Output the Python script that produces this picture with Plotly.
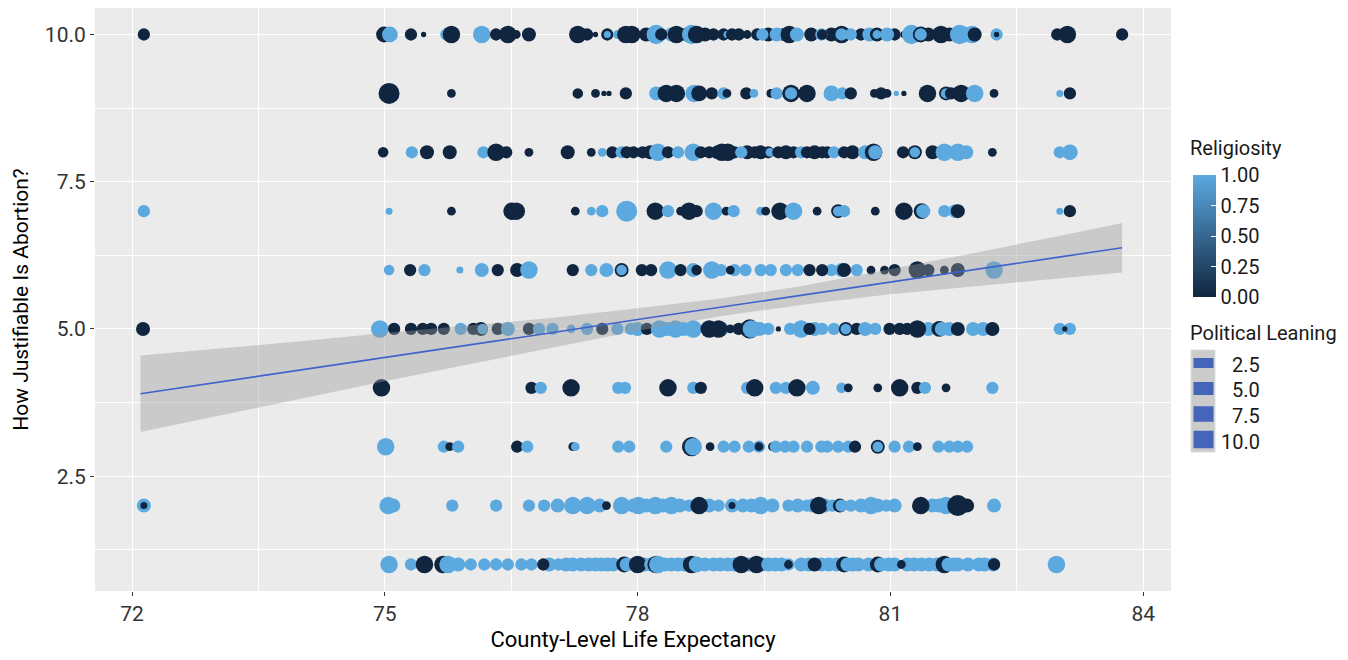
import plotly.graph_objects as go

# ---------------- data ----------------
# each row: (county-level life expectancy, religiosity, political leaning)
row_10 = [(77.40,0,5),(78.10,0,6),(78.40,1,6),(78.55,0,5),(78.80,0,6),(79.20,0,5),(79.55,0,6),(79.72,0,5),(80.30,0,6),(80.65,0,5),(80.75,1,6),(81.05,0,5),(81.45,0,6),
          (72.14,0,5),(74.99,0,7),(75.06,1,7),(75.31,0,5),(75.46,0,1),(75.73,1,5),(75.79,0,8),(76.15,1,8),(76.32,0,5),(76.46,0,8),(76.56,0,3),(76.71,0,6),
          (77.29,0,8),(77.50,0,1),(77.64,0,5),(77.64,1,2),(77.76,1,3),(77.86,0,8),(77.93,0,8),(78.22,1,9),(78.28,0,5),(78.46,0,8),(78.64,1,9),(78.70,0,8),
          (78.90,0,5),(79.02,0,5),(79.06,1,2),(79.12,0,5),(79.30,0,3),(79.42,0,5),(79.48,1,5),(79.65,1,6),(79.80,0,8),(79.89,1,6),(80.06,0,6),(80.18,1,5),
          (80.19,0,4),(80.42,0,8),(80.42,1,5),(80.53,1,5),(80.84,0,6),(80.84,1,3),(80.96,1,6),(81.16,0,2),(81.25,1,9),(81.36,0,7),(81.36,1,5),(81.60,0,8),
          (81.70,0,6),(81.82,1,9),(81.88,1,7),(81.97,1,8),(82.00,0,6),(82.26,1,5),(82.26,0,1),(82.98,0,5),(83.10,0,8),(83.75,0,5)]
row_9 = [(75.05,0,10),(75.79,0,3),(77.29,0,4),(77.50,0,3),(77.60,0,1),(77.66,0,1),(77.86,0,5),(78.22,1,6),(78.34,0,8),(78.46,0,8),(78.67,1,8),(78.73,0,7),
         (78.88,0,5),(79.02,1,5),(79.06,0,3),(79.29,0,5),(79.38,1,3),(79.58,0,3),(79.65,1,5),(79.82,0,8),(79.82,1,5),(80.01,0,8),(80.30,1,7),(80.43,1,5),
         (80.53,0,5),(80.81,0,3),(80.89,0,5),(80.96,0,3),(81.07,1,1),(81.16,0,1),(81.44,0,8),(81.66,0,6),(81.66,1,4),(81.72,0,5),(81.84,0,8),(82.00,1,8),
         (82.23,0,3),(83.01,1,2),(83.13,0,5)]
row_8 = [(77.70,0,5),(77.95,0,5),(78.15,0,6),(78.95,0,6),(79.15,0,5),(79.30,0,6),(79.55,0,5),(80.25,0,5),(80.55,0,6),(80.70,1,6),(81.15,0,5),(81.50,0,6),(81.90,1,6),
         (74.98,0,4),(75.32,1,5),(75.50,0,6),(75.77,0,6),(76.17,1,5),(76.32,0,8),(76.44,0,5),(76.71,0,3),(77.17,0,6),(77.45,0,3),(77.58,1,3),(77.81,1,5),
         (77.87,0,5),(78.06,0,5),(78.24,1,8),(78.36,0,5),(78.48,1,5),(78.66,1,8),(78.75,0,5),(78.85,0,5),(79.00,0,8),(79.07,0,8),(79.23,1,5),(79.39,0,5),
         (79.46,0,6),(79.57,1,3),(79.67,0,5),(79.76,0,6),(79.85,0,5),(79.94,1,5),(80.01,0,5),(80.10,0,6),(80.19,0,5),(80.33,1,5),(80.45,0,5),(80.80,0,8),
         (80.82,1,6),(81.29,0,6),(81.29,1,4),(81.64,1,8),(81.80,1,8),(82.21,0,3),(83.01,1,5),(83.13,1,7)]
row_7 = [(72.14,1,5),(75.05,1,2),(75.79,0,3),(76.51,0,8),(76.56,0,8),(77.26,0,3),(77.45,1,3),(77.58,1,5),(77.87,1,10),(78.21,0,8),(78.36,1,5),(78.51,0,3),
         (78.61,0,8),(78.70,0,5),(78.90,1,8),(79.05,0,3),(79.14,1,5),(79.46,1,3),(79.52,0,3),(79.69,0,8),(79.85,1,8),(80.13,0,3),(80.38,0,6),(80.38,1,4),
         (80.45,1,5),(80.82,0,3),(81.16,0,8),(81.37,0,7),(81.39,1,6),(81.64,1,5),(81.77,1,6),(81.80,0,6),(83.01,1,2),(83.13,0,5)]
row_6 = [(77.45,1,5),(78.05,0,5),(79.15,1,5),(79.90,1,5),(80.30,1,5),(80.60,1,5),(81.05,0,5),(81.45,0,5),
         (75.05,1,4),(75.30,0,5),(75.47,1,5),(75.89,1,2),(76.15,1,6),(76.34,0,5),(76.57,0,6),(76.71,1,8),(77.23,0,5),(77.63,1,6),(77.81,0,6),(77.81,1,4),
         (78.16,0,5),(78.36,1,8),(78.51,0,5),(78.66,1,6),(78.70,0,4),(78.88,1,8),(78.99,1,5),(79.10,0,3),(79.28,1,5),(79.46,1,5),(79.58,1,5),(79.76,1,5),
         (80.04,0,5),(80.19,0,5),(80.42,1,6),(80.45,0,6),(80.77,0,3),(80.93,0,3),(81.32,0,8),(81.64,0,3),(81.80,0,6),(82.23,1,8)]
row_5 = [(75.55,0,5),(75.90,1,5),(76.05,0,5),(77.40,1,5),(78.00,1,6),(78.35,1,6),(78.55,1,6),(79.00,1,6),(79.20,0,5),(79.45,1,6),(80.10,1,6),(80.60,0,5),
         (80.70,1,6),(81.20,0,5),(81.45,1,6),(81.70,1,6),(82.10,1,6),
         (72.13,0,6),(74.94,1,8),(75.11,0,5),(75.31,0,5),(75.45,0,5),(75.70,0,5),(76.14,0,6),(76.16,1,4),(76.34,0,5),(76.46,1,6),(76.71,0,5),(76.83,1,5),
         (76.99,1,5),(77.21,1,3),(77.58,0,5),(77.76,1,5),(77.92,1,5),(78.11,0,5),(78.26,1,8),(78.45,1,8),(78.66,1,8),(78.85,0,8),(78.96,0,8),(79.10,0,3),
         (79.33,0,9),(79.35,1,8),(79.55,1,5),(79.67,0,1),(79.81,1,5),(79.94,1,8),(80.04,0,5),(80.19,1,5),(80.33,1,5),(80.47,0,6),(80.47,1,4),(80.82,1,5),
         (80.99,0,5),(81.11,0,5),(81.32,0,8),(81.58,0,7),(81.61,1,6),(81.80,0,6),(81.98,1,6),(82.21,0,6),(83.01,1,5),(83.13,1,5),(83.07,0,1)]
row_4 = [(74.96,0,8),(76.74,0,5),(76.85,1,5),(77.21,0,8),(77.77,1,5),(77.85,1,5),(78.34,1,5),(78.36,0,8),(78.66,1,5),(78.75,0,5),(79.30,1,5),(79.39,0,8),
         (79.64,1,5),(79.76,1,5),(79.89,0,8),(80.08,1,6),(80.42,1,4),(80.50,0,3),(80.85,0,3),(81.11,0,8),(81.32,0,5),(81.41,1,5),(81.66,0,3),(82.21,1,5)]
row_3 = [(79.15,1,5),(79.75,1,5),(80.25,1,5),(80.50,1,5),(81.05,1,5),(81.70,1,5),
         (75.01,1,8),(75.70,1,5),(75.77,0,3),(75.87,1,5),(76.57,0,5),(76.69,1,5),(77.23,0,3),(77.26,1,3),(77.77,1,5),(77.90,1,5),(78.34,1,5),(78.64,0,9),
         (78.66,1,8),(78.86,0,3),(79.02,1,5),(79.32,1,5),(79.44,1,5),(79.44,0,3),(79.60,0,3),(79.64,1,5),(79.85,1,5),(80.01,1,5),(80.18,1,5),(80.38,1,5),
         (80.58,0,5),(80.85,0,6),(80.85,1,4),(81.22,1,5),(81.32,0,3),(81.57,1,5),(81.80,1,5),(81.91,1,5)]
row_2 = [(77.05,1,6),(77.55,1,6),(77.95,1,6),(78.10,1,6),(78.30,1,6),(78.50,1,6),(78.85,1,6),(79.25,1,6),(79.35,1,6),(79.60,1,6),(79.90,1,6),(80.08,1,6),
         (80.22,1,6),(80.65,1,6),(80.85,1,6),(81.05,1,6),(81.50,1,6),(81.58,1,6),
         (72.14,1,6),(72.14,0,2),(75.04,1,8),(75.10,1,6),(75.80,1,5),(76.32,1,5),(76.71,1,5),(76.89,1,5),(77.23,1,8),(77.40,1,8),(77.63,0,3),(77.81,1,8),
         (78.01,1,8),(78.21,1,8),(78.40,1,8),(78.61,1,5),(78.73,0,8),(78.96,1,5),(79.12,1,6),(79.12,0,2),(79.46,1,8),(79.79,1,5),(80.01,1,5),(80.15,0,8),
         (80.31,1,5),(80.40,0,6),(80.42,1,5),(80.53,1,5),(80.77,1,8),(80.95,1,5),(81.36,0,8),(81.66,1,8),(81.80,0,10),(81.91,0,6),(82.23,1,6)]
row_1 = [(76.95,1,6),(77.15,1,6),(77.33,1,6),(77.50,1,6),(77.64,1,6),(78.08,1,6),(78.32,1,6),(78.40,1,6),(78.56,1,6),(78.80,1,6),(78.98,1,6),(79.15,1,6),
         (79.32,1,6),(79.48,1,6),(79.63,1,6),(80.03,1,6),(80.18,1,6),(80.36,1,6),(80.55,1,6),(80.98,1,6),(81.05,1,6),(81.20,1,6),(81.37,1,6),(81.55,1,6),
         (81.75,1,6),(82.05,1,6),(82.12,1,6),
         (75.05,1,8),(75.31,1,5),(75.47,0,8),(75.69,0,8),(75.75,1,8),(75.87,1,6),(76.02,1,5),(76.18,1,5),(76.32,1,5),(76.46,1,5),(76.62,1,5),(76.74,1,5),
         (76.88,0,5),(77.06,1,5),(77.23,1,6),(77.42,1,6),(77.57,1,6),(77.71,1,6),(77.84,0,7),(77.87,1,6),(78.00,0,8),(78.16,1,6),(78.22,0,8),(78.24,1,8),
         (78.48,1,6),(78.64,0,8),(78.70,1,7),(78.90,1,6),(79.07,1,6),(79.23,0,8),(79.41,0,8),(79.55,1,6),(79.71,1,6),(79.79,1,5),(79.79,0,3),(79.94,1,6),
         (80.10,0,6),(80.27,1,6),(80.45,0,7),(80.49,1,6),(80.62,1,6),(80.74,1,6),(80.85,0,7),(80.89,1,6),(81.13,0,3),(81.28,1,6),(81.46,1,6),(81.64,0,8),
         (81.69,1,6),(81.80,1,6),(81.92,1,6),(82.22,1,6),(82.23,0,5),(82.97,1,8)]

responses = [1, 2, 3, 4, 5, 6, 7, 8, 9, 10]
rows = [row_1, row_2, row_3, row_4, row_5, row_6, row_7, row_8, row_9, row_10]

# linear fit with 95% band
fit_x  = [72.1, 73, 74, 75, 76, 77, 78, 79, 80, 81, 82, 83, 83.75]
fit_y  = [3.90, 4.09, 4.30, 4.52, 4.73, 4.94, 5.16, 5.37, 5.58, 5.80, 6.01, 6.22, 6.38]
fit_lo = [3.25, 3.52, 3.81, 4.11, 4.40, 4.69, 4.97, 5.22, 5.42, 5.59, 5.73, 5.86, 5.96]
fit_hi = [4.55, 4.66, 4.79, 4.93, 5.06, 5.19, 5.35, 5.52, 5.74, 6.01, 6.29, 6.58, 6.80]

x_ticks = [72, 75, 78, 81, 84]
y_ticks = [2.5, 5.0, 7.5, 10.0]
rel_ticks = [0, 0.25, 0.5, 0.75, 1.0]
size_legend = [2.5, 5.0, 7.5, 10.0]

# ---------------- build ----------------
xs, ys, cs, ss = [], [], [], []
for resp, row in zip(responses, rows):
    for le, rel, pl in row:
        xs.append(le); ys.append(resp); cs.append(rel); ss.append(pl)

def diam(v):
    return 3.5 + 1.75 * v

FONT = "Roboto, 'Liberation Sans', sans-serif"
TXT = "#1a1a1a"
DARK = "#10253F"
LIGHT = "#5CA9E0"

# the page body adds an 8px offset; the figure is sized so that it fills the window
OFF = 8
W, H = 1348 - OFF, 660 - 2 * OFF
# plot area in window pixels
PX_L, PX_R, PX_T, PX_B = 95, 1171, 8, 591
def fx(px):
    return (px - PX_L) / (PX_R - PX_L)
def fy(py):
    return (PX_B - py) / (PX_B - PX_T)

fig = go.Figure()
fig.add_trace(go.Scatter(
    x=xs, y=ys, mode="markers",
    marker=dict(
        color=cs, cmin=0, cmax=1,
        colorscale=[[0, DARK], [1, LIGHT]],
        size=[diam(v) for v in ss], line=dict(width=0), opacity=1,
        colorbar=dict(
            x=fx(1193), xanchor="left", xpad=0,
            y=fy(236), yanchor="middle", ypad=0,
            len=122, lenmode="pixels", thickness=23,
            tickvals=rel_ticks, tickformat=".2f",
            ticks="inside", ticklen=5, tickcolor="white", tickwidth=1,
            outlinewidth=0,
            tickfont=dict(size=20, family=FONT, color=TXT),
        ),
        showscale=True,
    ),
    hoverinfo="skip", showlegend=False,
))
fig.add_trace(go.Scatter(
    x=fit_x + fit_x[::-1], y=fit_hi + fit_lo[::-1],
    fill="toself", fillcolor="rgba(153,153,153,0.4)", line=dict(width=0),
    mode="lines", hoverinfo="skip", showlegend=False,
))
fig.add_trace(go.Scatter(
    x=fit_x, y=fit_y, mode="lines", line=dict(color="#4062CC", width=1.6),
    hoverinfo="skip", showlegend=False,
))

shapes = []
annotations = []
annotations.append(dict(text="Religiosity", x=fx(1188), y=fy(148), xref="paper", yref="paper",
                        xanchor="left", yanchor="middle", showarrow=False,
                        font=dict(size=20, family=FONT, color=TXT)))
annotations.append(dict(text="Political Leaning", x=fx(1188), y=fy(333), xref="paper", yref="paper",
                        xanchor="left", yanchor="middle", showarrow=False,
                        font=dict(size=20, family=FONT, color=TXT)))
shapes.append(dict(type="rect", xref="paper", yref="paper", x0=fx(1191), x1=fx(1215), y0=fy(452), y1=fy(350),
                   fillcolor="#CBCBCB", line=dict(color="#DCDCDC", width=1), layer="above"))
key_h = [10, 13, 15.5, 17.5]
for i, v in enumerate(size_legend):
    cy = 363 + 25.5 * i
    h = key_h[i]
    shapes.append(dict(type="rect", xref="paper", yref="paper", x0=fx(1193.5), x1=fx(1213.5),
                       y0=fy(cy + h / 2), y1=fy(cy - h / 2), fillcolor="#4565B8", line=dict(width=0), layer="above"))
    annotations.append(dict(text=f"{v:.1f}", x=fx(1262), y=fy(cy + 2), xref="paper", yref="paper",
                            xanchor="right", yanchor="middle", showarrow=False,
                            font=dict(size=20, family=FONT, color=TXT)))

fig.update_layout(
    width=W, height=H,
    margin=dict(l=PX_L - OFF, r=W - (PX_R - OFF), t=PX_T - OFF, b=H - (PX_B - OFF), autoexpand=False),
    paper_bgcolor="white", plot_bgcolor="#EBEBEB",
    shapes=shapes, annotations=annotations,
    font=dict(family=FONT),
    showlegend=False,
)
fig.update_xaxes(
    range=[71.56, 84.33], tickvals=x_ticks, ticktext=[str(t) for t in x_ticks],
    showgrid=True, gridcolor="white", gridwidth=1.4, zeroline=False, automargin=False,
    minor=dict(tickvals=[73.5, 76.5, 79.5, 82.5], showgrid=True, gridcolor="white", gridwidth=0.7, ticks=""),
    ticks="outside", ticklen=4, tickcolor="#333333", tickwidth=1,
    tickfont=dict(size=21, family=FONT, color="#333333"),
    title=dict(text="County-Level Life Expectancy", font=dict(size=22, family=FONT, color="black"), standoff=10),
    showline=False,
)
fig.update_yaxes(
    range=[0.55, 10.45], tickvals=y_ticks, tickformat=".1f",
    showgrid=True, gridcolor="white", gridwidth=1.4, zeroline=False, automargin=False,
    minor=dict(tickvals=[1.25, 3.75, 6.25, 8.75], showgrid=True, gridcolor="white", gridwidth=0.7, ticks=""),
    ticks="outside", ticklen=4, tickcolor="#333333", tickwidth=1,
    tickfont=dict(size=21, family=FONT, color="#333333"),
    title=dict(text="How Justifiable Is Abortion?", font=dict(size=21, family=FONT, color="black"), standoff=10),
    showline=False,
)

fig.write_html("out.html")
